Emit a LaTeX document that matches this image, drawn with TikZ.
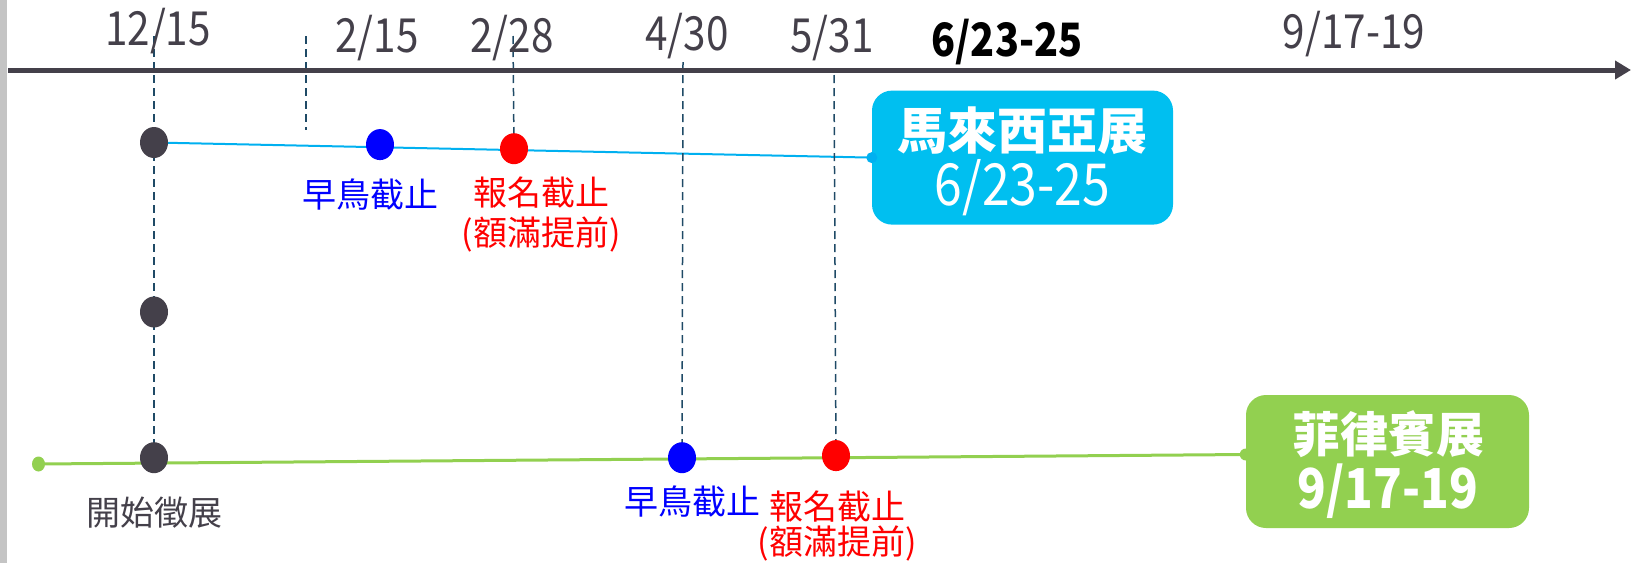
\documentclass[tikz,border=0pt]{standalone}
\usepackage{fontspec}
\setmainfont{Noto Sans CJK TC}
\newfontfamily\numfont[FakeStretch=0.86]{Noto Sans CJK TC}
\usetikzlibrary{arrows.meta,shapes.geometric,backgrounds}
\definecolor{axisc}{HTML}{44404A}
\definecolor{dashc}{HTML}{1F4A66}
\definecolor{myblue}{HTML}{00BFF0}
\definecolor{mycyanline}{HTML}{00B0F0}
\definecolor{mygreen}{HTML}{92D050}
\definecolor{barc}{HTML}{C4C4C4}
\begin{document}
\begin{tikzpicture}[x=1pt,y=-1pt,
  lbl/.style={inner sep=0pt, font=\numfont\fontsize{47}{52}\selectfont, text=axisc},
  cjklbl/.style={inner sep=0pt, font=\fontsize{34}{40}\selectfont},
  dot/.style={ellipse, inner sep=0pt, minimum width=28pt, minimum height=31pt},
  vdash/.style={draw=dashc, line width=1.5pt, dash pattern=on 8pt off 5pt},
  box/.style={rounded corners=20pt, align=center, text=white, inner sep=0pt},
  boxtxt/.style={inner sep=0pt, text=white},
  enddot/.style={circle, inner sep=0pt, minimum size=11pt}
]
\useasboundingbox (0,0) rectangle (1631,563);

% axis
\coordinate (axs) at (8,70);
\coordinate (axe) at (1631,70);
\draw[axisc, line width=5pt, -{Triangle[length=16pt,width=18pt]}] (axs) -- (axe);

% top labels
\node[lbl] (l1) at (158,31) {12/15};
\node[lbl] (l2) at (377,38.5) {2/15};
\node[lbl] (l3) at (512,38.5) {2/28};
\node[lbl] (l4) at (687,36) {4/30};
\node[lbl] (l5) at (832,38.5) {5/31};
\node[lbl, text=black, font=\numfont\fontsize{46}{52}\selectfont\bfseries] (l6) at (1007,41.6) {6/23-25};
\node[lbl] (l7) at (1354,34) {9/17-19};

% boxes
\node[box, fill=myblue, minimum width=301pt, minimum height=134pt] (my) at (1022.5,157.6) {};
\node[boxtxt, font=\fontsize{50}{56}\selectfont\bfseries] (myt1) at (1022.5,131) {馬來西亞展};
\node[boxtxt, font=\numfont\fontsize{58}{66}\selectfont] (myt2) at (1022.5,188) {6/23-25};
\node[box, fill=mygreen, minimum width=283pt, minimum height=133pt] (ph) at (1387.5,461.5) {};
\node[boxtxt, font=\fontsize{48}{56}\selectfont\bfseries] (pht1) at (1388,434) {菲律賓展};
\node[boxtxt, font=\numfont\fontsize{55}{66}\selectfont\bfseries] (pht2) at (1388,491) {9/17-19};
\node[enddot, fill=mycyanline] (myend) at (my.west) {};
\node[enddot, fill=mygreen, minimum size=12pt] (phend) at ([yshift=7pt]ph.west) {};

% dots
\node[dot, fill=axisc] (d1) at (154,142.5) {};
\node[dot, fill=blue] (d2) at (380,144.6) {};
\node[dot, fill=red] (d3) at (514,148.7) {};
\node[dot, fill=axisc] (d4) at (154,312) {};
\node[dot, fill=axisc] (d5) at (154,457.7) {};
\node[dot, fill=blue] (d6) at (682,457.7) {};
\node[dot, fill=red] (d7) at (836,455.6) {};
\node[ellipse, inner sep=0pt, minimum width=13pt, minimum height=15pt, fill=mygreen] (g0) at (38.5,464) {};

% dashed coordinates
\coordinate (t1) at (154,36);
\coordinate (t2a) at (306,36);
\coordinate (t2b) at (306,130);
\coordinate (t3) at (513,36);
\coordinate (t4) at (683,62);
\coordinate (t5) at (834,75);

\begin{scope}[on background layer]
  \fill[barc] (0,0) rectangle (7,563);
  \draw[mycyanline, line width=2pt] (d1.center) -- (myend.center);
  \draw[mygreen, line width=3pt] (g0.center) -- (phend.center);
  \draw[vdash] (t1) -- (d5.center);
  \draw[vdash] (t2a) -- (t2b);
  \draw[vdash] (t3) -- (d3.center);
  \draw[vdash] (t4) -- (d6.center);
  \draw[vdash] (t5) -- (d7.center);
\end{scope}

% labels
\node[cjklbl, text=blue] (e1) at (370,194.5) {早鳥截止};
\node[cjklbl, text=red] (r1) at (541,192.4) {報名截止};
\node[cjklbl, text=red] (f1) at (541,234) {(額滿提前)};
\node[cjklbl, text=axisc] (s1) at (154,513) {開始徵展};
\node[cjklbl, text=blue] (e2) at (692,502) {早鳥截止};
\node[cjklbl, text=red] (r2) at (837,506.6) {報名截止};
\node[cjklbl, text=red] (f2) at (837,543) {(額滿提前)};
\end{tikzpicture}
\end{document}
